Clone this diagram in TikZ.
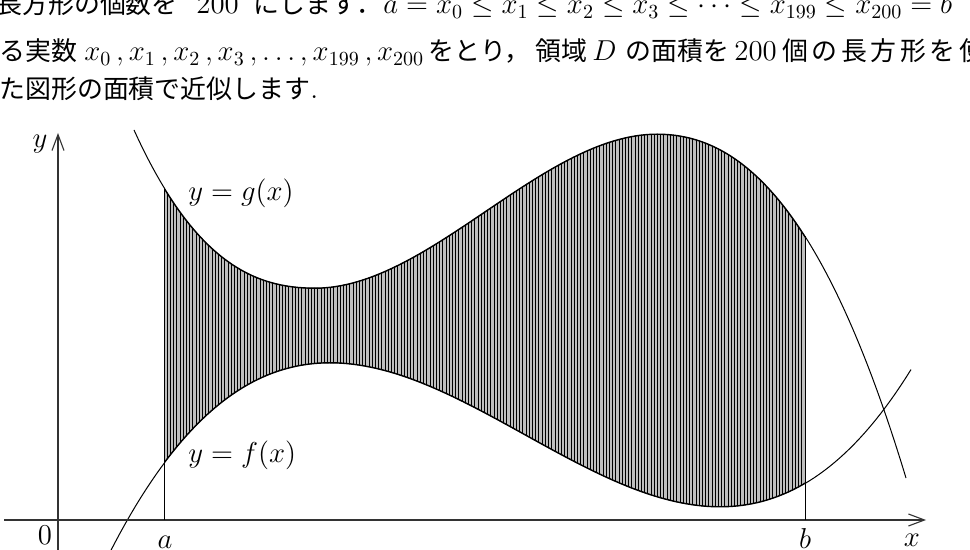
\documentclass[tikz,border=0pt]{standalone}
\usepackage{fontspec}
\newfontfamily\jp{Noto Sans CJK JP}[Scale=0.9]
\usetikzlibrary{arrows.meta}
\newcommand{\jk}{\kern1.8pt}
\begin{document}
\begin{tikzpicture}[x=0.5pt,y=-0.5pt,
  font=\fontsize{13.5}{19}\selectfont,
  axisline/.style={line width=0.55pt,draw=black!80,-{Straight Barb[length=8pt,width=6pt,line width=0.55pt]}},
  curve/.style={line width=0.5pt},
  edge/.style={line width=0.9pt},
  strip/.style={line width=0.5pt},
  txt/.style={anchor=base west,inner sep=0pt},
  ptxt/.style={anchor=base west,inner sep=0pt,font=\fontsize{14.4}{19}\selectfont},
  lab/.style={anchor=base,inner sep=0pt}]
\useasboundingbox (0,0) rectangle (970,550);

% text, line 1
\node[ptxt] (l1a) at (-4,14) {\jp 長方形の個数を};
\node[ptxt] (l1b) at (196,14) {200};
\node[ptxt] (l1c) at (253,14) {\jp にします．};
\node[ptxt] (l1d) at (383,14) {$a = x_0 \leq x_1 \leq x_2 \leq x_3 \leq \cdots \leq x_{199} \leq x_{200} = b$};
% text, line 2
\node[ptxt] (l2a) at (-1,61) {\jp る実数};
\node[ptxt] (l2b) at (84,61) {$x_0\,, x_1\,, x_2\,, x_3\,, \ldots, x_{199}\,, x_{200}$};
\node[ptxt] (l2c) at (428,61) {\jp をとり，};
\node[ptxt] (l2d) at (535,61) {\jp 領域};
\node[ptxt] (l2e) at (592,61) {$D$};
\node[ptxt] (l2f) at (625,61) {\jp の面積を};
\node[ptxt] (l2g) at (734,61) {200};
\node[ptxt] (l2h) at (782,61) {\jp 個\jk の\jk 長\jk 方\jk 形\jk を\jk 使};
% text, line 3
\node[ptxt] (l3) at (-1,99) {{\jp た図形の面積で近似します}.};

% coordinates
\coordinate (xs) at (4,520);
\coordinate (xe) at (926,520);
\coordinate (ys) at (58,552);
\coordinate (ye) at (58,133);
\coordinate (A0) at (164,520);
\coordinate (Ag) at (164,188);
\coordinate (B0) at (805,520);
\coordinate (Bg) at (805,236);

\def\gpath{(134,130) .. controls (194.3,262.7) and (254.7,288) .. (315,288)
  .. controls (429,288) and (543,134) .. (657,134)
  .. controls (740,134) and (823,204) .. (906,478)}
\def\fy#1{520-(157+14.565*(((#1-330)/100)^3/3-1.95*((#1-330)/100)^2))}

% shaded rectangles
\begin{scope}
  \clip (164,100) rectangle (805,550);
  \clip \gpath -- plot[domain=911:100,samples=160] (\x,{\fy{\x}}) -- cycle;
  \fill[black!25] (164,100) rectangle (805,550);
  \foreach \i in {0,...,200}
    \draw[strip] ({164+\i*3.205},100) -- ++(0,450);
  \draw[edge] \gpath;
  \draw[edge] plot[domain=100:911,samples=160] (\x,{\fy{\x}});
\end{scope}

% curves
\draw[curve] \gpath;
\draw[curve] plot[domain=100:911,samples=160] (\x,{\fy{\x}});

% axes and end lines
\draw[axisline] (xs) -- (xe);
\draw[axisline] (ys) -- (ye);
\draw[curve] (A0) -- (Ag);
\draw[curve] (B0) -- (Bg);

% labels
\node[lab] (ylab) at (40,148) {$y$};
\node[lab] (zero) at (45,545) {$0$};
\node[lab] (alab) at (165,549) {$a$};
\node[lab] (blab) at (805,549) {$b$};
\node[lab] (xlab) at (912,547) {$x$};
\node[txt] (glab) at (188,201) {$y = g(x)$};
\node[txt] (flab) at (188,463) {$y = f(x)$};
\end{tikzpicture}
\end{document}
